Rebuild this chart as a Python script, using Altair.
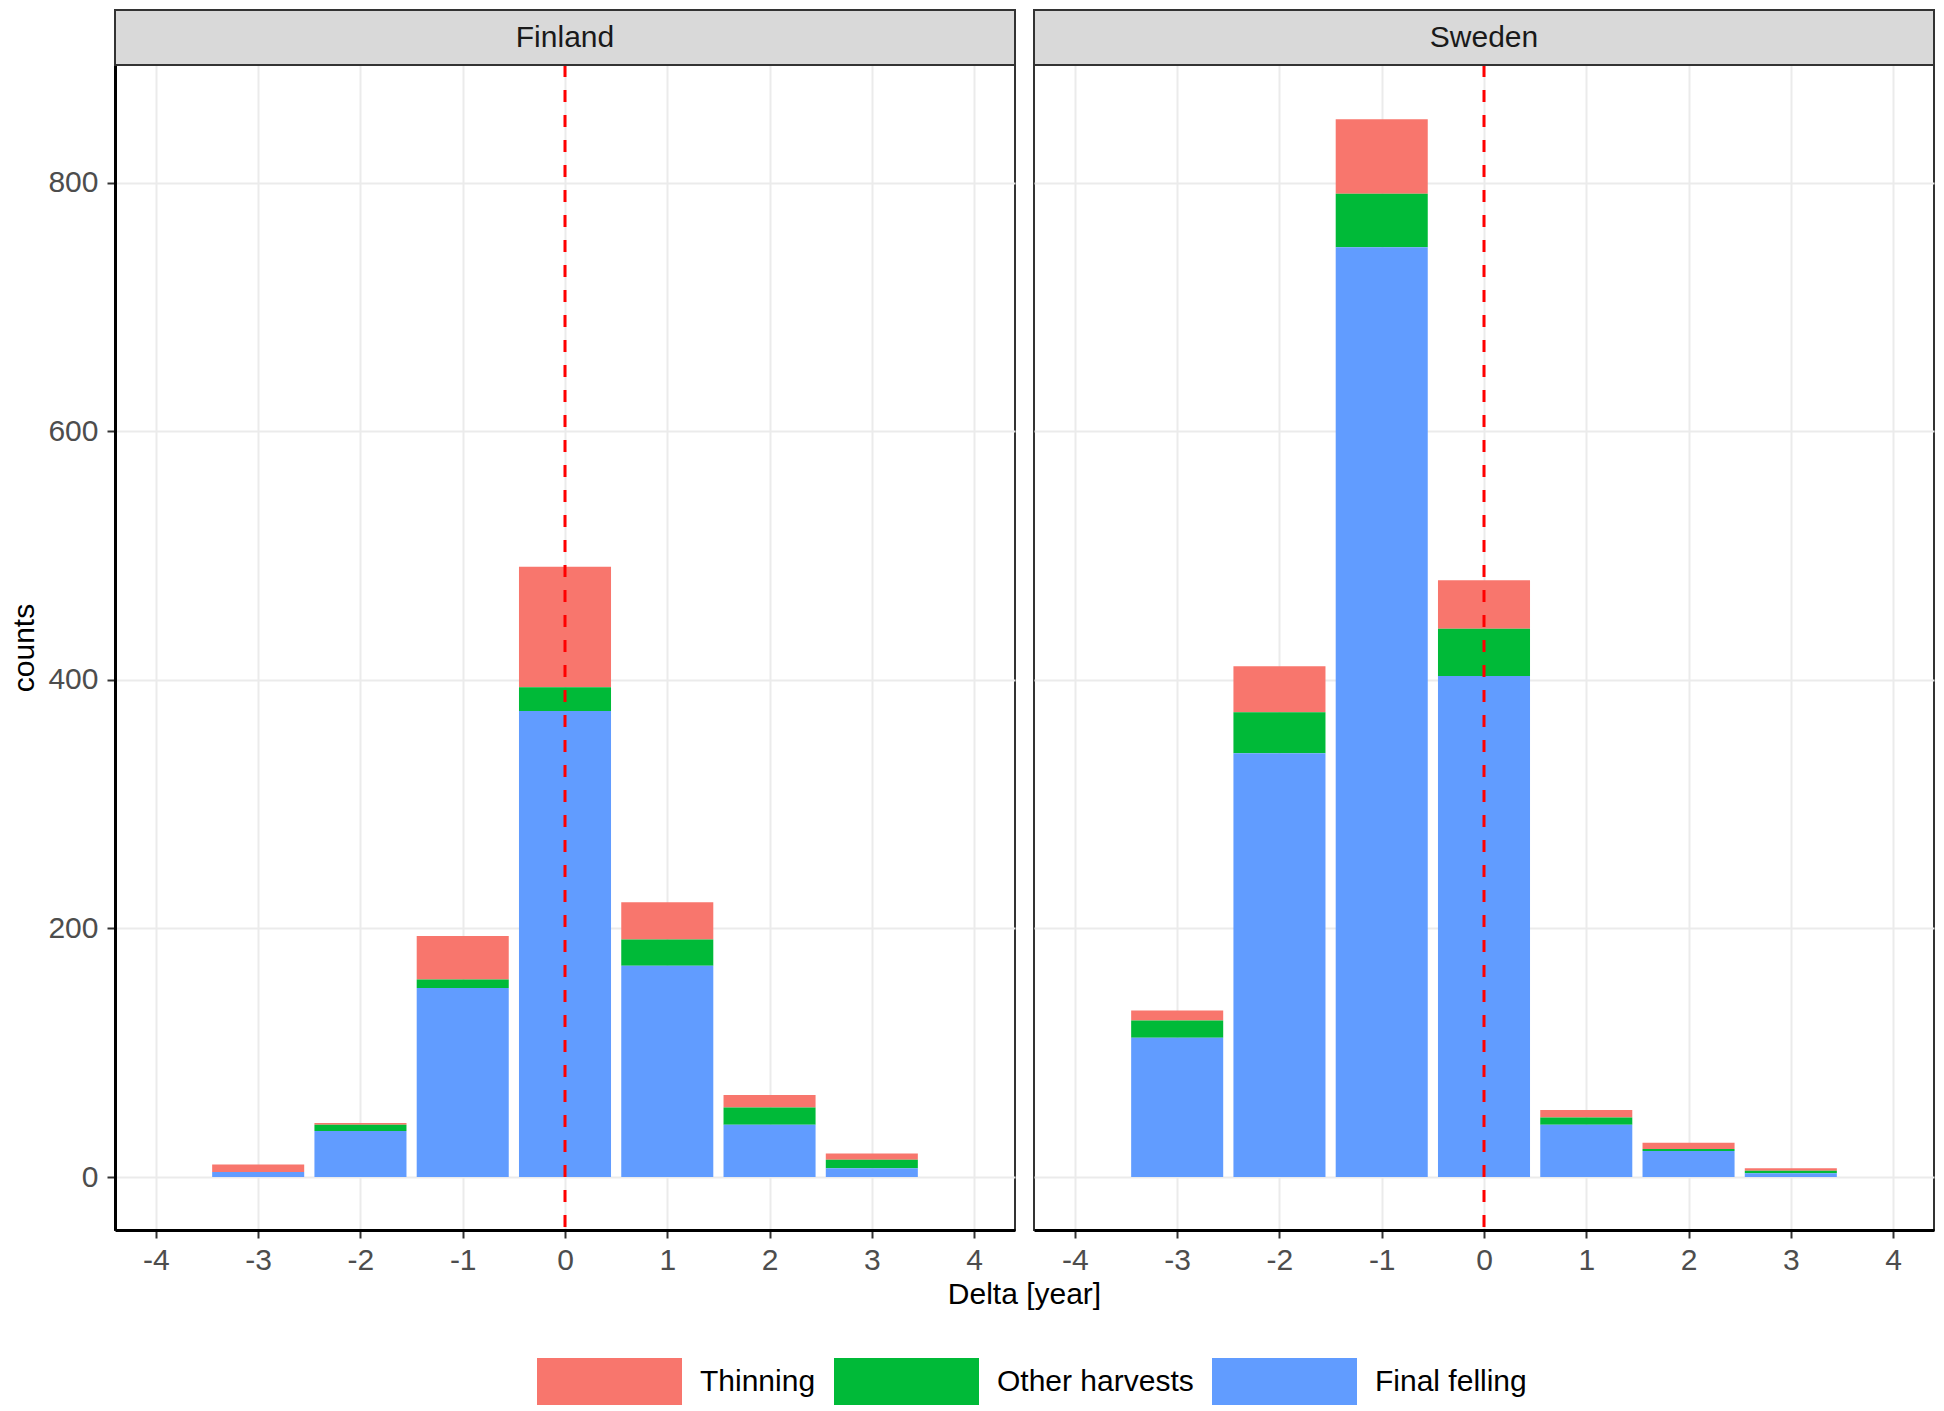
import altair as alt
import pandas as pd

FONT = "Liberation Sans"

countries = ["Finland", "Sweden"]
deltas = [-3, -2, -1, 0, 1, 2, 3]
types = ["Thinning", "Other harvests", "Final felling"]
type_colors = ["#F8766D", "#00BA38", "#619CFF"]
stack_rank = {"Final felling": 0, "Other harvests": 1, "Thinning": 2}

# counts
fin_final = [4, 37, 152, 375, 170, 42, 7]
fin_other = [0, 5, 7, 19, 21, 14, 7]
fin_thin = [6, 1.5, 35, 97, 30, 10, 5]
swe_final = [112, 341, 748, 403, 42, 21, 3]
swe_other = [14, 33, 43, 38, 6, 1.5, 2]
swe_thin = [8, 37, 60, 39, 6, 5, 2]

x_ticks = [-4, -3, -2, -1, 0, 1, 2, 3, 4]
y_ticks = [0, 200, 400, 600, 800]
x_domain = [-4.4, 4.4]
y_domain = [-42.6, 894.6]
bar_half = 0.45
vline_at = [0]
x_title = "Delta [year]"
y_title = "counts"

series = {
    "Finland": {"Final felling": fin_final, "Other harvests": fin_other, "Thinning": fin_thin},
    "Sweden": {"Final felling": swe_final, "Other harvests": swe_other, "Thinning": swe_thin},
}
rows = []
for c in countries:
    for t in types:
        for d, v in zip(deltas, series[c][t]):
            rows.append({"country": c, "delta": d, "type": t, "count": v, "rank": stack_rank[t]})
df = pd.DataFrame(rows)

W = 900
H = 1165
STRIP = 55

xscale = alt.Scale(domain=x_domain, nice=False, zero=False)
yscale = alt.Scale(domain=y_domain, nice=False, zero=False)
color_scale = alt.Scale(domain=types, range=type_colors)

legend = alt.Legend(
    orient="none", legendX=471, legendY=1293, direction="horizontal", title=None,
    symbolType="M-3.085,-1L3.085,-1L3.085,1L-3.085,1Z", symbolSize=2209,
    symbolStrokeWidth=0, symbolOpacity=1, labelOffset=67, columnPadding=18,
    labelFontSize=30, labelFont=FONT, labelColor="#000000", labelLimit=400,
)


def panel(country, show_y):
    data = df[df["country"] == country]
    xaxis = alt.Axis(values=x_ticks, labelExpr="'' + datum.value", title=None,
                     labelFontSize=30, labelColor="#4D4D4D", labelPadding=7,
                     tickSize=8, tickWidth=2, tickColor="#333333",
                     domainColor="#000000", domainWidth=3,
                     grid=True, gridColor="#EBEBEB", gridWidth=2)
    if show_y:
        yaxis = alt.Axis(values=y_ticks, labelExpr="'' + datum.value", title=y_title,
                         titleFontSize=30, titleFont=FONT, titleColor="#000000",
                         titleFontWeight="normal", titlePadding=8,
                         labelFontSize=30, labelColor="#4D4D4D", labelPadding=9,
                         tickSize=8, tickWidth=2, tickColor="#333333",
                         domainColor="#000000", domainWidth=3,
                         grid=True, gridColor="#EBEBEB", gridWidth=2)
    else:
        yaxis = alt.Axis(values=y_ticks, labels=False, ticks=False, domain=False, title=None,
                         grid=True, gridColor="#EBEBEB", gridWidth=2)

    bars = (
        alt.Chart(data)
        .transform_stack(stack="count", as_=["y0", "y1"], groupby=["delta"],
                         sort=[alt.SortField("rank", order="ascending")])
        .transform_calculate(xl=f"datum.delta - {bar_half}", xr=f"datum.delta + {bar_half}")
        .mark_rect()
        .encode(
            x=alt.X("xl:Q", scale=xscale, axis=xaxis),
            x2="xr:Q",
            y=alt.Y("y0:Q", scale=yscale, axis=yaxis),
            y2="y1:Q",
            color=alt.Color("type:N", scale=color_scale, legend=legend),
        )
    )
    rule = (
        alt.Chart(pd.DataFrame({"v": vline_at}))
        .mark_rule(color="#FF0000", strokeDash=[12, 13], strokeWidth=3)
        .encode(x=alt.X("v:Q", scale=xscale))
    )
    strip_df = pd.DataFrame({"country": [country]})
    strip_rect = (
        alt.Chart(strip_df)
        .mark_rect(fill="#D9D9D9", stroke="#333333", strokeWidth=2)
        .encode(x=alt.value(0), x2=alt.value(W), y=alt.value(-STRIP), y2=alt.value(0))
    )
    strip_text = (
        alt.Chart(strip_df)
        .mark_text(fontSize=30, font=FONT, color="#1A1A1A", baseline="middle", align="center")
        .encode(text="country:N", x=alt.value(W / 2), y=alt.value(-STRIP / 2))
    )
    layers = [bars, rule, strip_rect, strip_text]
    if show_y:
        xt = (
            alt.Chart(pd.DataFrame({"label": [x_title]}))
            .mark_text(fontSize=30, font=FONT, color="#000000", baseline="middle", align="center")
            .encode(text="label:N", x=alt.value(W + 9.5), y=alt.value(H + 65))
        )
        layers.append(xt)
    return alt.layer(*layers).properties(width=W, height=H)


chart = (
    alt.hconcat(panel("Finland", True), panel("Sweden", False), spacing=19, bounds="flush")
    .resolve_scale(color="shared")
    .properties(padding={"left": 0, "top": 0, "right": 0, "bottom": 0})
    .configure(font=FONT)
    .configure_view(stroke="#333333", strokeWidth=2)
)

chart.save("out.html", embed_options={"renderer": "svg", "actions": False})
